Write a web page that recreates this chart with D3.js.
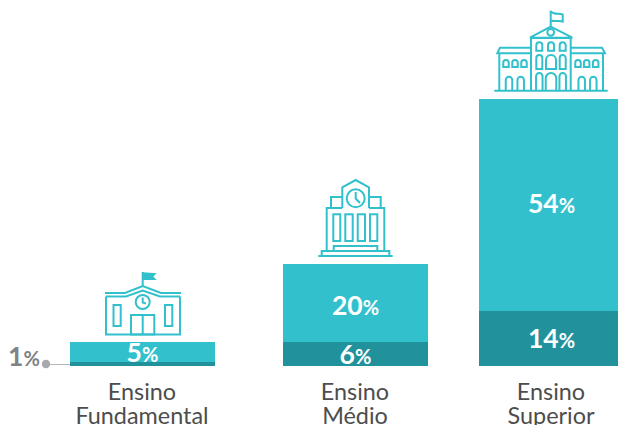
<!DOCTYPE html>
<html><head><meta charset="utf-8">
<script src="https://cdn.jsdelivr.net/npm/d3@7"></script>
<style>html,body{margin:0;padding:0;background:#fff}svg{display:block}text{font-family:Lato,sans-serif}</style>
</head><body><svg id="c" width="618" height="425"></svg>
<script>
const categories = ["Ensino Fundamental", "Ensino Médio", "Ensino Superior"];
const lowerShare = [1, 6, 14];
const upperShare = [5, 20, 54];
const teal = "#32c1cc", darkTeal = "#21929b";

const svg = d3.select("#c");
const W = 145;
const x = d3.scaleOrdinal().domain(categories).range([70, 283, 479]);
const y = d3.scaleLinear().domain([0, 68]).range([366, 99]);
const rows = categories.map((c, i) => ({c, lower: lowerShare[i], upper: upperShare[i]}));
const stack = d3.stack().keys(["lower", "upper"])(rows);
const fills = d3.scaleOrdinal().domain(["lower", "upper"]).range([darkTeal, teal]);

// bars
svg.append("g").attr("shape-rendering", "crispEdges").selectAll("g").data(stack).join("g").attr("fill", s => fills(s.key))
  .selectAll("rect").data(s => s).join("rect")
  .attr("x", d => x(d.data.c)).attr("width", W)
  .attr("y", d => y(d[1])).attr("height", d => y(d[0]) - y(d[1]));

// value labels
function pct(sel, size, small) {
  sel.append("tspan").text(d => d.v).attr("font-size", size);
  sel.append("tspan").text("%").attr("font-size", small);
}
const labelled = stack.flatMap(s => s.map(d => ({
  c: d.data.c, v: d[1] - d[0], mid: (y(d[0]) + y(d[1])) / 2, key: s.key
}))).filter(d => !(d.key === "lower" && d.v === lowerShare[0]));
const shift = d => d.v === upperShare[1] ? 12 : d.v === upperShare[2] ? 7.5 : 9.5;
svg.append("g").selectAll("text").data(labelled).join("text")
  .attr("x", d => x(d.c) + W / 2)
  .attr("y", d => d.mid + shift(d))
  .attr("text-anchor", "middle").attr("fill", "#fff").attr("font-weight", 700)
  .call(pct, 26.5, 20);

// category labels
svg.append("g").selectAll("text").data(categories).join("text")
  .attr("text-anchor", "middle").attr("fill", "#4d4d4d").attr("font-size", 23.4)
  .each(function (c) {
    const parts = c.split(" ");
    d3.select(this).selectAll("tspan").data(parts).join("tspan")
      .attr("x", x(c) + W / 2 - 0.5).attr("y", (p, i) => 400 + i * 24).text(p => p);
  });

// 1% callout
const call = svg.append("g");
call.append("line").attr("x1", 46).attr("x2", x(categories[0])).attr("y1", y(0) - 1.5).attr("y2", y(0) - 1.5)
  .attr("stroke", "#b5b5b8").attr("stroke-width", 1);
call.append("circle").attr("cx", 46).attr("cy", y(0) - 2).attr("r", 4.2).attr("fill", "#a7a9ac");
call.append("text").datum({v: lowerShare[0]}).attr("x", 24).attr("y", 366)
  .attr("text-anchor", "middle").attr("fill", "#808285").attr("font-weight", 700).call(pct, 26.5, 20);

// icons
const icons = svg.append("g").attr("fill", "none").attr("stroke", teal).attr("stroke-width", 2);
const P = d => icons.append("path").attr("d", d);
const R = (a, b, c, e) => icons.append("rect").attr("x", a).attr("y", b).attr("width", c - a).attr("height", e - b);
const C = (a, b, r) => icons.append("circle").attr("cx", a).attr("cy", b).attr("r", r);
const arch = (cx, w, top, bot) => P(`M${cx - w / 2},${bot}V${top + w / 2}A${w / 2},${w / 2} 0 0 1 ${cx + w / 2},${top + w / 2}V${bot}`);
const archZ = (cx, w, top, bot) => P(`M${cx - w / 2},${bot}V${top + w / 2}A${w / 2},${w / 2} 0 0 1 ${cx + w / 2},${top + w / 2}V${bot}Z`);

// school
P("M142.7,287V272");
icons.append("path").attr("d", "M142.5,272.3L156.7,273.3L153.3,276.5L156.7,280L142.5,280Z").attr("fill", teal).attr("stroke", "none");
P("M105,293H125L142.7,286L161,293H181");
P("M106,296.5H126L142.7,290.5L160,296.5H180");
P("M106,296.5V334.5H180V296.5");
C(142.7, 302, 7); P("M142.7,297.5V302.5L146,303.5");
R(113.5, 305, 120.7, 326); R(165, 305, 172.3, 326);
R(131, 315, 154.3, 334.5); P("M142.7,315V334.5");

// secondary school
P("M318.3,256H392.7");
R(321.7, 251, 389.3, 256);
R(333.7, 246, 377.3, 251);
P("M326.7,251V208H342.3M384.3,251V208H369");
P("M331,208V197H342.3M380.7,208V197H369");
P("M342.3,208V187.3L355.7,180L369,187.3V208");
C(355.7, 198.3, 9); P("M355.7,192V198.5L360,203");
[[333.3, 340.3], [345.3, 352.7], [357.7, 365], [370, 377.3]].forEach(w => R(w[0], 214.3, w[1], 241));

// university
P("M494.3,90.7H607.7");
P("M531,90.7V38H570.7V90.7");
P("M530,37.7L550.7,26.7L572.3,37.7Z");
C(550.7, 32.3, 3.4);
P("M550.7,26V10.7");
P("M550.7,11.5C554,15 559,13 562.7,14.5V21.5C559,20 554,22 550.7,20.5");
P("M531,47.7H500L497.3,53.3H531M570.7,47.7H602L605,53.3H570.7");
P("M499.3,53.3V90.7M603,53.3V90.7");
[539.3, 551, 562.7].forEach(cx => archZ(cx, 6, 42.3, 50.7));
archZ(539.3, 6, 55, 69); archZ(551, 10, 55, 69); archZ(562.7, 6, 55, 69);
arch(539.3, 6.5, 73, 90.7); arch(551, 10.5, 73, 90.7); arch(562.7, 6.5, 73, 90.7);
[506, 515, 524, 578, 586.7, 595.7].forEach(cx => archZ(cx, 5.5, 60, 67));
[509, 520.7, 581.7, 593.3].forEach(cx => arch(cx, 6.5, 76.7, 90.7));
</script></body></html>
